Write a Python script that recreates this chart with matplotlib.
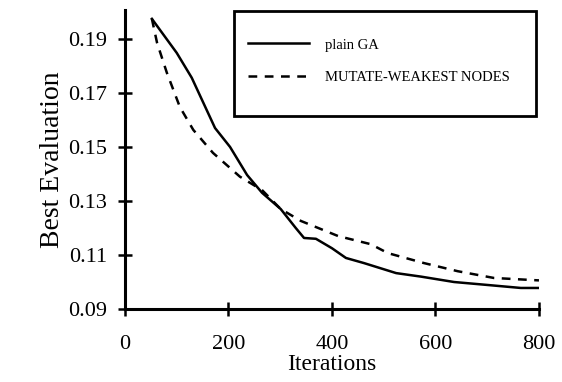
import matplotlib
matplotlib.use("Agg")
import matplotlib.pyplot as plt
from matplotlib.patches import Rectangle

plt.rcParams['font.family'] = ['Liberation Serif', 'DejaVu Serif']

# plain GA (solid)
ga_x = [52, 100, 129, 174, 203, 236, 265, 301, 330, 346, 369, 400, 427, 462, 524, 572, 636, 701, 765, 800]
ga_y = [0.1974, 0.1848, 0.1756, 0.157, 0.150, 0.1396, 0.133, 0.127, 0.120, 0.1163, 0.116, 0.1125, 0.1089, 0.107,
        0.1033, 0.102, 0.100, 0.0989, 0.0978, 0.0978]

# mutate-weakest nodes (dashed)
mw_x = [52, 62, 81, 106, 132, 170, 222, 265, 301, 340, 412, 475, 508, 578, 643, 713, 790, 800]
mw_y = [0.1974, 0.1885, 0.1774, 0.1648, 0.1563, 0.1478, 0.139, 0.134, 0.127, 0.1226, 0.117, 0.114, 0.1107,
        0.107, 0.104, 0.1015, 0.1007, 0.1006]

xticks = [0, 200, 400, 600, 800]
yticks = [0.09, 0.11, 0.13, 0.15, 0.17, 0.19]

fig = plt.figure(figsize=(5.62, 3.82), dpi=100)
ax = fig.add_axes([0.2224, 0.191, 0.7366, 0.783])

ax.plot(ga_x, ga_y, color='black', linewidth=1.8, label='plain GA')
ax.plot(mw_x, mw_y, color='black', linewidth=1.8, linestyle=(0, (3.5, 3)), label='MUTATE-WEAKEST NODES')

ax.set_xlim(0, 800)
ax.set_ylim(0.09, 0.2007)
ax.set_xticks(xticks)
ax.set_xticklabels([str(t) for t in xticks])
ax.set_yticks(yticks)
ax.set_yticklabels([f"{t:.2f}" for t in yticks])

for s in ['top', 'right']:
    ax.spines[s].set_visible(False)
for s in ['left', 'bottom']:
    ax.spines[s].set_linewidth(2.2)
ax.tick_params(direction='inout', length=10, width=1.8, labelsize=16)
ax.tick_params(axis='x', pad=14)
ax.tick_params(axis='y', pad=8)

ax.set_xlabel('Iterations', fontsize=17, labelpad=0)
ax.set_ylabel('Best Evaluation', fontsize=20, labelpad=2)

# legend box drawn by hand so padding can differ horizontally/vertically
ax.add_patch(Rectangle((0.263, 0.645), 0.73, 0.35, transform=ax.transAxes, fill=False,
                       edgecolor='black', linewidth=2, clip_on=False, zorder=5))
leg = ax.legend(loc='upper left', bbox_to_anchor=(0.297, 0.905), fontsize=10.5, frameon=False,
                borderpad=0, borderaxespad=0, labelspacing=1.35, handlelength=4.2, handletextpad=1.1)

fig.savefig('out.png', dpi=100)
